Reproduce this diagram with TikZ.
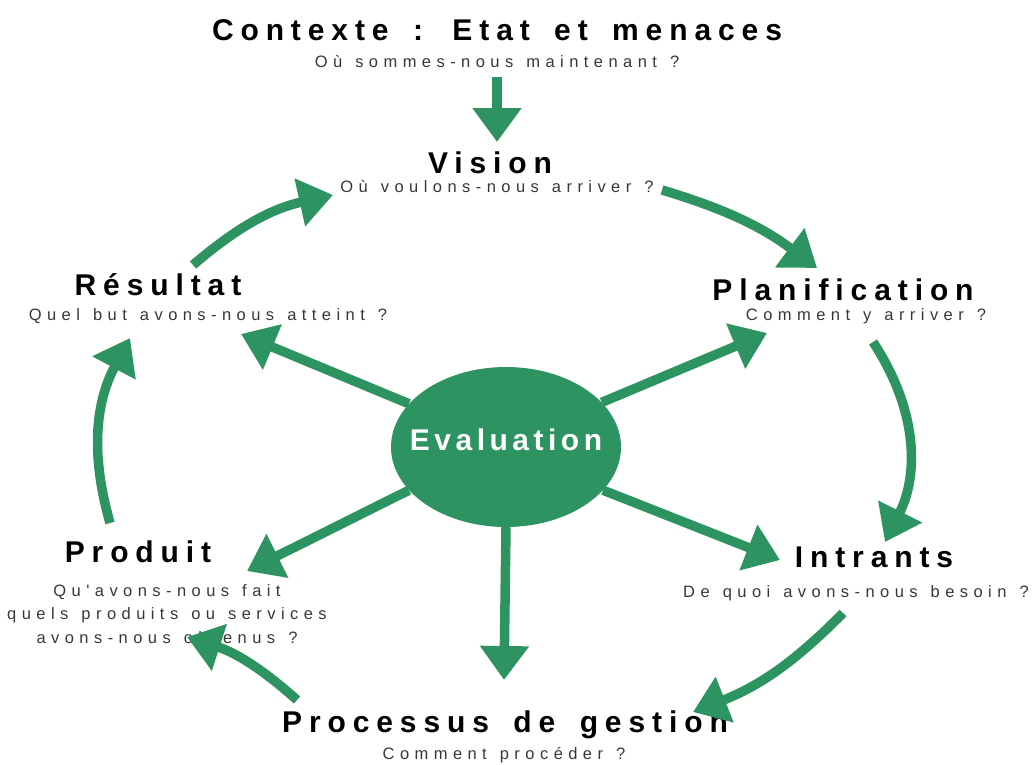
\documentclass[tikz,border=0pt]{standalone}
\usepackage{fontspec}
\usetikzlibrary{arrows.meta,shapes.geometric}
\newfontfamily\headfont[LetterSpace=23,WordSpace=1.6]{Liberation Sans}
\newfontfamily\askfont[LetterSpace=33,WordSpace=1.3]{Liberation Sans}
\newfontfamily\evalfont[LetterSpace=15]{Liberation Sans}
\definecolor{evalgreen}{RGB}{45,147,97}
\definecolor{askgray}{RGB}{55,55,55}

\begin{document}
\begin{tikzpicture}[
  x=1pt, y=-1pt,
  stage/.style={font=\headfont\bfseries\fontsize{30}{36}\selectfont, anchor=base, inner sep=0pt},
  ask/.style={font=\askfont\fontsize{16.5}{23.5}\selectfont, text=askgray, anchor=base, inner sep=0pt},
  hub/.style={ellipse, fill=evalgreen, minimum width=230pt, minimum height=160pt, inner ysep=0pt,
    inner xsep=-19pt, text=white, text depth=15pt, font=\evalfont\bfseries\fontsize{30}{36}\selectfont},
  flow/.style={line width=9.5pt, draw=evalgreen, -{Triangle[width=47pt,length=34pt]}}
]
\useasboundingbox (0,0) rectangle (1034,764);
\node [stage] (ctx) at (497,40) {Contexte : Etat et menaces};
\node [ask] (ctxq) at (497,67) {Où sommes-nous maintenant ?};
\node [stage] (vision) at (490,173) {Vision};
\node [ask] (visq) at (497,192) {Où voulons-nous arriver ?};
\node [stage] (plan) at (843,300) {Planification};
\node [ask] (planq) at (866,320) {Comment y arriver ?};
\node [stage] (intr) at (874,567) {Intrants};
\node [ask] (intrq) at (856,597) {De quoi avons-nous besoin ?};
\node [stage] (proc) at (505,732) {Processus de gestion};
\node [ask] (procq) at (504,759) {Comment procéder ?};
\node [stage] (prod) at (138,562) {Produit};
\node [ask, align=center] (prodq) at (167,643) {Qu'avons-nous fait\\quels produits ou services\\avons-nous obtenus ?};
\node [stage] (res) at (158,295) {Résultat};
\node [ask] (resq) at (208,320) {Quel but avons-nous atteint ?};
\node [hub] (eval) at (506,447) {Evaluation};

\draw [flow] ([shift={(0,10)}]ctxq.base) -- ([shift={(7,-31)}]vision.base);
\draw [flow] ([shift={(165,-2)}]visq.base) to [bend left=10] ([shift={(-26,-32)}]plan.base);
\draw [flow] ([shift={(7,22)}]planq.base) to [bend left=30] ([shift={(11,-25)}]intr.base);
\draw [flow] ([shift={(-13,16)}]intrq.base) to [bend left=12] ([shift={(188,-20)}]proc.base);
\draw [flow] ([shift={(-208,-32)}]proc.base) to [bend right=12] ([shift={(49,75)}]prod.base);
\draw [flow] ([shift={(-28,-39)}]prod.base) to [bend left=22] ([shift={(-78,18)}]resq.base);
\draw [flow] ([shift={(35,-30)}]res.base) to [bend left=14] ([shift={(-157,22)}]vision.base);

\draw [flow] (eval.156) -- ([shift={(33,14)}]resq.base);
\draw [flow] (eval.25) -- ([shift={(-99,13)}]planq.base);
\draw [flow] (eval.204) -- ([shift={(109,9)}]prod.base);
\draw [flow] (eval.336) -- ([shift={(-94,-7)}]intr.base);
\draw [flow] (eval.270) -- ([shift={(-1,-52)}]proc.base);
\end{tikzpicture}
\end{document}
